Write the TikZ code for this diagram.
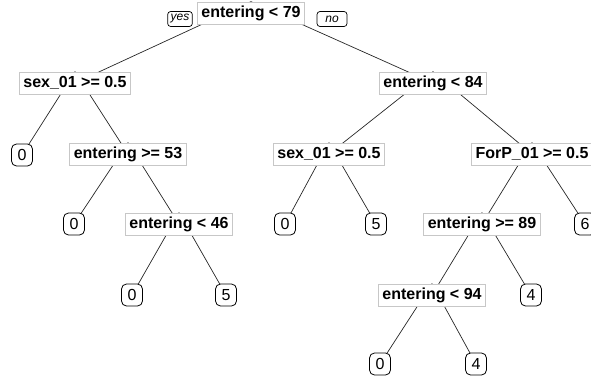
\documentclass[tikz,border=0pt]{standalone}
\usepackage{fontspec}
\setmainfont{Liberation Sans}
\usetikzlibrary{backgrounds}
\begin{document}
\begin{tikzpicture}[x=1pt,y=-1pt,
  splitbox/.style={draw=black!22, fill=white, line width=0.7pt,
    font=\fontsize{16}{18}\selectfont\bfseries,
    inner xsep=4pt, inner ysep=0pt, minimum height=22pt},
  leafbox/.style={draw=black, fill=white, line width=0.8pt, rounded corners=5pt,
    font=\fontsize{16}{18}\selectfont,
    inner sep=0pt, minimum width=21pt, minimum height=22pt},
  tagbox/.style={draw=black, fill=white, line width=0.7pt, rounded corners=3pt,
    font=\fontsize{12}{14}\selectfont\itshape,
    inner xsep=3pt, inner ysep=0pt, minimum height=15pt},
  branch/.style={draw=black!85, line width=0.7pt}]
\useasboundingbox (0,0) rectangle (591,377);

% split nodes
\node[splitbox] (root) at (251,13) {entering < 79};
\node[splitbox] (a) at (75,83) {sex\_01 >= 0.5};
\node[splitbox] (b) at (433,83) {entering < 84};
\node[splitbox] (c) at (128,154) {entering >= 53};
\node[splitbox] (d) at (329,154) {sex\_01 >= 0.5};
\node[splitbox] (e) at (532,154) {ForP\_01 >= 0.5};
\node[splitbox] (f) at (179,224) {entering < 46};
\node[splitbox] (g) at (482,224) {entering >= 89};
\node[splitbox] (h) at (432,295) {entering < 94};

% leaves
\node[leafbox] (l1) at (22,155) {0};
\node[leafbox] (l2) at (74,224) {0};
\node[leafbox] (l3) at (285,224) {0};
\node[leafbox] (l4) at (376,224) {5};
\node[leafbox] (l5) at (585,224) {6};
\node[leafbox] (l6) at (132,295) {0};
\node[leafbox] (l7) at (226,295) {5};
\node[leafbox] (l8) at (531,295) {4};
\node[leafbox] (l9) at (380,364) {0};
\node[leafbox] (l10) at (476,364) {4};

% branch direction tags
\node[tagbox] (yes) at (180,19) {yes};
\node[tagbox, minimum width=30pt] (no) at (332,19) {no};

% branches run under the boxes
\begin{scope}[on background layer]
\foreach \p/\q in {root/a, root/b, a/l1, a/c, c/l2, c/f, f/l6, f/l7,
                   b/d, b/e, d/l3, d/l4, e/g, e/l5, g/h, g/l8, h/l9, h/l10}
  \draw[branch] (\p.north) -- (\q.center);
\end{scope}
\end{tikzpicture}
\end{document}
